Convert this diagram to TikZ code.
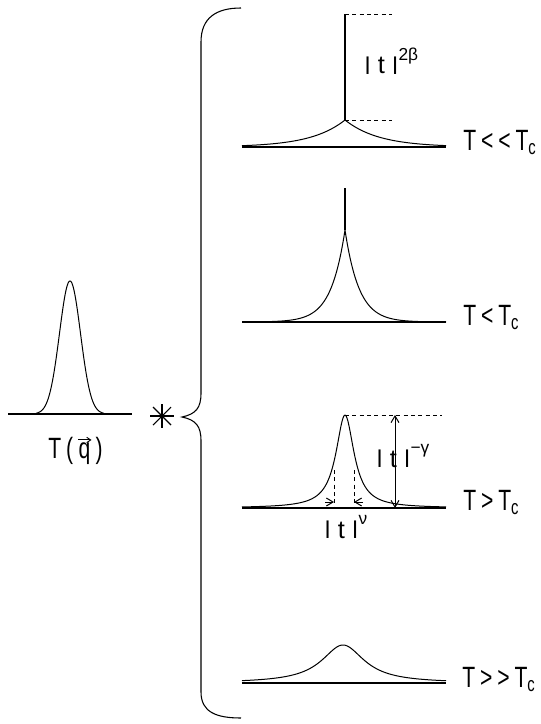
\documentclass[tikz,border=0pt]{standalone}
\usepackage{fontspec}
\setmainfont{Liberation Sans}[FakeStretch=0.72]
\newfontfamily\plainsans{Liberation Sans}
\usetikzlibrary{arrows.meta,calc}
\newcommand\vpipe{\raisebox{0.14em}{\scalebox{1}[0.74]{|}}}
\newcommand\supx[1]{\raisebox{0.52em}{\fontsize{13}{13}\selectfont #1}}
\tikzset{
  pcurve/.style={line width=0.75pt, line join=round},
  pbase/.style={line width=0.9pt},
  dashline/.style={line width=0.7pt, dash pattern=on 3pt off 2.5pt},
  biglabel/.style={inner sep=0pt, anchor=base west, font=\fontsize{22}{26}\selectfont},
  tlabel/.style={inner sep=0pt, anchor=base west, font=\plainsans\fontsize{19}{22}\selectfont},
  >={Straight Barb[length=5pt,width=6pt]}
}
\begin{document}
\begin{tikzpicture}[x=0.75pt,y=-0.75pt]
\useasboundingbox (0,0) rectangle (541,724);

% left gaussian
\coordinate (lb0) at (8,414);
\coordinate (lb1) at (132,414);
\draw[pbase] (lb0) -- (lb1);
\draw[pcurve] plot[domain=36:104, samples=137] (\x, {414 - 133*exp(-((\x-70)/10.5)^2/2)});
\node[biglabel] (tq1) at (48,458) {T\,(\,};
\node[biglabel, anchor=base west] (tqq) at (tq1.base east) {q};
\node[biglabel, anchor=base west] (tq2) at (tqq.base east) {\,)};
\draw[line width=0.7pt, -{Straight Barb[length=3pt,width=4pt]}] ($(tqq.north west)+(0,-2)$) -- ($(tqq.north east)+(1,-2)$);

% asterisk
\coordinate (ast) at (162,416);
\draw[line width=0.8pt] ($(ast)+(-12,0)$) -- ($(ast)+(12,0)$);
\draw[line width=0.8pt] ($(ast)+(0,-12)$) -- ($(ast)+(0,12)$);
\draw[line width=0.8pt] ($(ast)+(-9,-9)$) -- ($(ast)+(9,9)$);
\draw[line width=0.8pt] ($(ast)+(-9,9)$) -- ($(ast)+(9,-9)$);

% brace
\coordinate (btop) at (241,8);
\coordinate (btip) at (182,417);
\coordinate (bbot) at (241,718);
\draw[line width=0.8pt] (btop) .. controls (216,8) and (201,18) .. (201,42)
  -- (201,393) .. controls (201,408) and (196,414) .. (btip)
  .. controls (196,420) and (201,426) .. (201,441)
  -- (201,692) .. controls (201,712) and (216,718) .. (bbot);

% panel 1: T << Tc
\draw[pbase] (242,147) -- (446,147);
\draw[pcurve] plot[domain=242:446, samples=205] (\x, {147 - 27*exp(-abs(\x-345)/34)});
\coordinate (s1top) at (345,14);
\coordinate (s1bot) at (345,120);
\draw[line width=1.5pt] (s1bot) -- (s1top);
\draw[dashline] (s1top) -- (392,14);
\draw[dashline] (s1bot) -- (392,120);
\node[tlabel] (l1) at (364,74) {\vpipe\ t\ \vpipe\supx{2β}};
\node[biglabel] (t1) at (463,150) {T\,<\,<\,T\textsubscript{c}};

% panel 2: T < Tc
\draw[pbase] (242,322) -- (446,322);
\draw[pcurve] plot[domain=242:446, samples=205] (\x, {322 - 92*exp(-abs(\x-345)/14)});
\draw[line width=0.8pt] (345,230) -- (345,188);
\node[biglabel] (t2) at (463,325) {T\,<\,T\textsubscript{c}};

% panel 3: T > Tc
\draw[pbase] (242,508) -- (446,508);
\draw[pcurve] plot[domain=242:446, samples=205] (\x, {508 - 93/(1+((\x-345)/11)^2)});
\coordinate (p3) at (345,415);
\draw[dashline] (p3) -- (442,415);
\coordinate (a3t) at (395,415);
\coordinate (a3b) at (395,508);
\draw[line width=0.75pt, <->] (a3t) -- (a3b);
\draw[dashline] (334,470) -- (334,508);
\draw[dashline] (354,470) -- (354,508);
\draw[line width=0.75pt, ->] (325,502) -- (334,502);
\draw[line width=0.75pt, ->] (363,502) -- (354,502);
\node[tlabel] (l3) at (376,467) {\vpipe\ t\ \vpipe\supx{−γ}};
\node[tlabel] (l3b) at (324,538) {\vpipe\ t\ \vpipe\supx{ν}};
\node[biglabel] (t3) at (463,510) {T\,>\,T\textsubscript{c}};

% panel 4: T >> Tc
\draw[pbase] (242,683) -- (446,683);
\draw[pcurve] plot[domain=242:446, samples=205] (\x, {683 - 38/(1+((\x-343)/26)^2)});
\node[biglabel] (t4) at (462,687) {T\,>\,>\,T\textsubscript{c}};
\end{tikzpicture}
\end{document}
